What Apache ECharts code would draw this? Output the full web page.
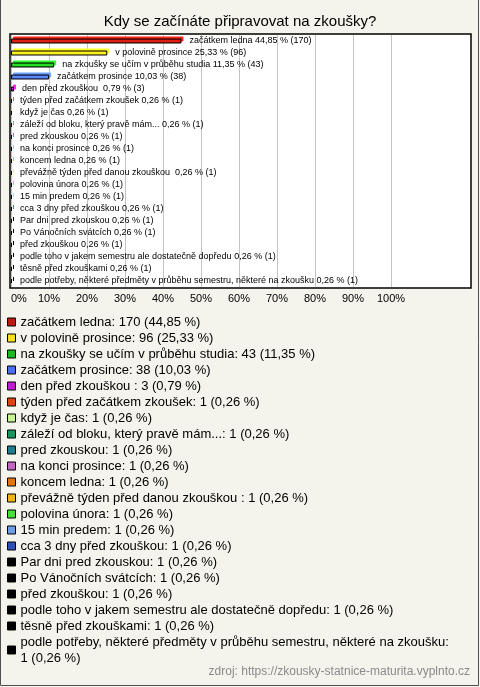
<!DOCTYPE html>
<html>
<head>
<meta charset="utf-8">
<script src="https://cdn.jsdelivr.net/npm/echarts@6/dist/echarts.min.js"></script>
<style>
html,body{margin:0;padding:0;background:#f4f4ec;}
#c{width:480px;height:687px;}
</style>
</head>
<body>
<div id="c"></div>
<script>
var titleText = 'Kdy se začínáte připravovat na zkoušky?';
var categories = [
  'začátkem ledna',
  'v polovině prosince',
  'na zkoušky se učím v průběhu studia',
  'začátkem prosince',
  'den před zkouškou ',
  'týden před začátkem zkoušek',
  'když je čas',
  'záleží od bloku, který pravě mám...',
  'pred zkouskou',
  'na konci prosince',
  'koncem ledna',
  'převážně týden před danou zkouškou ',
  'polovina února',
  '15 min predem',
  'cca 3 dny před zkouškou',
  'Par dni pred zkouskou',
  'Po Vánočních svátcích',
  'před zkouškou',
  'podle toho v jakem semestru ale dostatečně dopředu',
  'těsně před zkouškami',
  'podle potřeby, některé předměty v průběhu semestru, některé na zkoušku'
];
var counts = [170, 96, 43, 38, 3, 1, 1, 1, 1, 1, 1, 1, 1, 1, 1, 1, 1, 1, 1, 1, 1];
var percents = [44.85, 25.33, 11.35, 10.03, 0.79, 0.26, 0.26, 0.26, 0.26, 0.26, 0.26, 0.26, 0.26, 0.26, 0.26, 0.26, 0.26, 0.26, 0.26, 0.26, 0.26];
var colors = ['#c0190f', '#f5e21a', '#1cba1c', '#4a6ff0', '#c21ad2', '#e2420f', '#c4f590', '#16955c', '#1e7b90', '#c466c4', '#e2780d', '#f0b415', '#46e036', '#6f9ee8', '#2e4fb8', '#000000', '#000000', '#000000', '#000000', '#000000', '#000000'];
var xTicks = [0, 10, 20, 30, 40, 50, 60, 70, 80, 90, 100];
var sourceText = 'zdroj: https://zkousky-statnice-maturita.vyplnto.cz';

function fmtPct(v) { return v.toFixed(2).replace('.', ','); }

var chart = echarts.init(document.getElementById('c'), null, {renderer: 'canvas'});
var font = 'Liberation Sans, Arial, sans-serif';

var barData = categories.map(function (c, i) {
  var col = colors[i];
  return {
    value: percents[i],
    itemStyle: {
      color: col,
      borderColor: '#000',
      borderWidth: 1,
      shadowColor: col === '#000000' ? '#000' : echarts.color.lift(col, -0.45),
      shadowOffsetX: 2,
      shadowOffsetY: -2,
      shadowBlur: 0
    }
  };
});

var pieData = categories.map(function (c, i) {
  return { name: c, value: counts[i], itemStyle: { color: colors[i] } };
});

var option = {
  backgroundColor: '#f4f4ec',
  animation: false,
  textStyle: { fontFamily: font },
  title: {
    text: titleText,
    left: 'center',
    top: 9,
    textStyle: { fontSize: 15, fontWeight: 'normal', color: '#000', fontFamily: font }
  },
  graphic: [
    { type: 'polyline', z: 10, shape: { points: [[0.5, 0], [0.5, 685.5], [478.5, 685.5], [478.5, 0]] },
      style: { fill: null, stroke: '#505050', lineWidth: 1 } },
    { type: 'text', right: 10, top: 666, style: { text: sourceText, fill: '#8a8a8a', font: '12px ' + font } }
  ],
  grid: [
    { left: 11, top: 35, width: 380, height: 252, containLabel: false },
    { left: 10, top: 34, width: 461, height: 254, show: true, backgroundColor: '#ffffff',
      borderColor: '#000', borderWidth: 1.5, z: -5 }
  ],
  xAxis: [{
    type: 'value',
    gridIndex: 0,
    min: 0,
    max: 100,
    interval: 10,
    axisLine: { show: false },
    axisTick: { show: false },
    splitLine: { show: true, lineStyle: { color: '#c4c4c4', width: 1 } },
    axisLabel: {
      color: '#000', fontSize: 11, margin: 6, fontFamily: font,
      alignMinLabel: 'left',
      formatter: function (v) { return xTicks.indexOf(v) >= 0 ? v + '%' : ''; }
    }
  }, {
    type: 'value', gridIndex: 1, show: false, min: 0, max: 1
  }],
  yAxis: [{
    type: 'category',
    gridIndex: 0,
    data: categories,
    inverse: true,
    axisLine: { show: false },
    axisTick: { show: false },
    axisLabel: { show: false },
    splitLine: { show: false }
  }, {
    type: 'value', gridIndex: 1, show: false, min: 0, max: 1
  }],
  legend: {
    orient: 'vertical',
    left: 2,
    top: 309,
    itemWidth: 8,
    itemHeight: 8,
    itemGap: 0,
    icon: 'rect',
    selectedMode: false,
    itemStyle: { borderColor: '#000', borderWidth: 1 },
    textStyle: { fontSize: 13, color: '#000', lineHeight: 16, fontFamily: font },
    formatter: function (name) {
      var i = categories.indexOf(name);
      var sep = name.length > 60 ? ':\n' : ': ';
      return name + sep + counts[i] + ' (' + fmtPct(percents[i]) + ' %)';
    },
    data: categories
  },
  series: [
    {
      type: 'bar',
      xAxisIndex: 0,
      yAxisIndex: 0,
      z: 5,
      data: barData,
      barWidth: 5,
      label: {
        show: true,
        position: 'right',
        distance: 8,
        fontSize: 9,
        color: '#000',
        fontFamily: font,
        formatter: function (p) {
          var i = p.dataIndex;
          return categories[i] + ' ' + fmtPct(percents[i]) + ' % (' + counts[i] + ')';
        }
      }
    },
    {
      type: 'pie',
      radius: [0, 0],
      center: [-100, -100],
      silent: true,
      label: { show: false },
      labelLine: { show: false },
      data: pieData
    }
  ]
};
chart.setOption(option);
</script>
</body>
</html>
